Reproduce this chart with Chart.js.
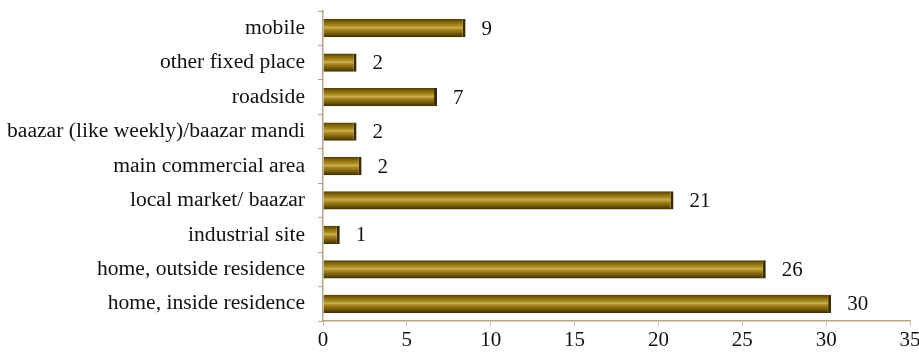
<!DOCTYPE html>
<html>
<head>
<meta charset="utf-8">
<script src="https://cdn.jsdelivr.net/npm/chart.js@4.4.1/dist/chart.umd.min.js"></script>
<style>
  html, body { margin: 0; padding: 0; background: #fff; }
  #wrap { width: 919px; height: 358px; }
</style>
</head>
<body>
<div id="wrap"><canvas id="chart" width="919" height="358"></canvas></div>
<script>
const places = [
    'mobile',
    'other fixed place',
    'roadside',
    'baazar (like weekly)/baazar mandi',
    'main commercial area',
    'local market/ baazar',
    'industrial site',
    'home, outside residence',
    'home, inside residence'
];
// bar lengths (labels show them rounded)
const shares = [8.5, 2.0, 6.8, 2.0, 2.3, 20.9, 1.0, 26.4, 30.3];
const xTicks = [0, 5, 10, 15, 20, 25, 30, 35];

const serif = "'Liberation Serif', 'Times New Roman', serif";
const barPct = 0.53;

// vertical gold gradient for each bar, built from the y scale
function goldFill(c) {
    const chart = c.chart;
    const y = chart.scales.y;
    if (!y || c.dataIndex === undefined) return '#a0801a';
    const mid = y.getPixelForValue(c.dataIndex);
    const half = (y.bottom - y.top) / places.length * barPct / 2;
    if (!isFinite(mid) || !isFinite(half) || half <= 0) return '#a0801a';
    const g = chart.ctx.createLinearGradient(0, mid - half, 0, mid + half);
    g.addColorStop(0, '#4e3a04');
    g.addColorStop(0.15, '#7f630b');
    g.addColorStop(0.36, '#ab8c20');
    g.addColorStop(0.47, '#cbb055');
    g.addColorStop(0.57, '#a98a1f');
    g.addColorStop(0.8, '#745a09');
    g.addColorStop(1, '#3c2d03');
    return g;
}

// numbers drawn to the right of each bar
const valueLabels = {
    id: 'valueLabels',
    afterDatasetsDraw(chart) {
        const ctx = chart.ctx;
        const meta = chart.getDatasetMeta(0);
        ctx.save();
        ctx.font = '21px ' + serif;
        ctx.fillStyle = '#111';
        ctx.textBaseline = 'middle';
        ctx.textAlign = 'left';
        meta.data.forEach((bar, i) => {
            ctx.fillText(String(Math.round(shares[i])), bar.x + 16, bar.y + 1);
        });
        ctx.restore();
    }
};

const chart = new Chart(document.getElementById('chart').getContext('2d'), {
    type: 'bar',
    data: {
        labels: places,
        datasets: [{
            data: shares,
            backgroundColor: goldFill,
            borderColor: '#3a2b03',
            borderWidth: { left: 0, top: 0, bottom: 0, right: 3 },
            borderSkipped: false,
            barPercentage: barPct,
            categoryPercentage: 1
        }]
    },
    options: {
        indexAxis: 'y',
        responsive: false,
        animation: false,
        devicePixelRatio: 1,
        layout: { padding: { top: 11, right: 0, bottom: 0, left: 0 } },
        plugins: {
            legend: { display: false },
            tooltip: { enabled: false }
        },
        scales: {
            x: {
                min: 0,
                max: 35,
                afterBuildTicks(scale) {
                    scale.ticks = xTicks.map(v => ({ value: v }));
                },
                afterFit(scale) {
                    scale.height = 37;
                    scale.paddingRight = 9;
                },
                border: { display: true, color: '#b3a587', width: 1.5 },
                grid: {
                    drawOnChartArea: false,
                    drawTicks: true,
                    tickLength: 5,
                    color: '#c8c0b0'
                },
                ticks: {
                    font: { family: serif, size: 21 },
                    color: '#111',
                    padding: 2,
                    maxRotation: 0
                }
            },
            y: {
                afterFit(scale) {
                    scale.width = 323;
                    scale.paddingTop = 0;
                    scale.paddingBottom = 0;
                },
                border: { display: true, color: '#b3a587', width: 1.5 },
                grid: {
                    offset: true,
                    drawOnChartArea: false,
                    drawTicks: true,
                    tickLength: 5,
                    color: '#b3a587'
                },
                ticks: {
                    font: { family: serif, size: 21.6 },
                    color: '#111',
                    padding: 13
                }
            }
        }
    },
    plugins: [valueLabels]
});
</script>
</body>
</html>
